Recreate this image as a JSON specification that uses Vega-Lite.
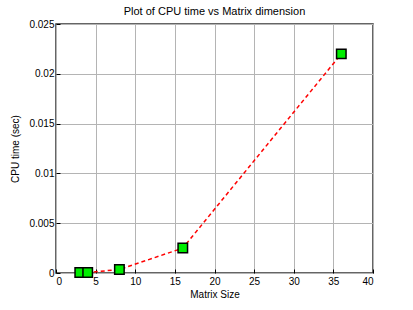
{
  "$schema": "https://vega.github.io/schema/vega-lite/v6.json",
  "width": 317,
  "height": 249,
  "autosize": {"type": "none"},
  "padding": {"left": 56, "top": 24, "right": 40, "bottom": 37},
  "background": "white",
  "title": {"text": "Plot of CPU time vs Matrix dimension", "font": "Liberation Sans", "fontSize": 11, "fontWeight": "normal", "color": "#000000", "offset": 2},
  "data": {"values": [
    {"size": 3, "time": 0.00005},
    {"size": 4, "time": 0.00005},
    {"size": 8, "time": 0.00035},
    {"size": 16, "time": 0.0025},
    {"size": 36, "time": 0.022}
  ]},
  "encoding": {
    "x": {"field": "size", "type": "quantitative", "scale": {"domain": [0, 40], "nice": false}, "axis": {"title": "Matrix Size", "grid": true, "values": [0,5,10,15,20,25,30,35,40], "tickSize": -4, "labelPadding": 7, "titlePadding": 3}},
    "y": {"field": "time", "type": "quantitative", "scale": {"domain": [0, 0.025], "nice": false}, "axis": {"title": "CPU time (sec)", "grid": true, "values": [0,0.005,0.01,0.015,0.02,0.025], "format": "~g", "tickSize": -4, "labelPadding": 6, "titlePadding": 8}}
  },
  "layer": [
    {"mark": {"type": "line", "color": "#ff0000", "strokeDash": [4, 3], "strokeWidth": 1.5}},
    {"mark": {"type": "square", "size": 90, "fill": "#00ee00", "stroke": "#000000", "strokeWidth": 1.5, "opacity": 1}}
  ],
  "config": {
    "view": {"stroke": "#333333", "strokeWidth": 1.5},
    "axis": {"labelFont": "Liberation Sans", "titleFont": "Liberation Sans", "labelFontSize": 10, "titleFontSize": 10, "titleFontWeight": "normal", "labelColor": "#000000", "titleColor": "#000000", "gridColor": "#b4b4b4", "gridOpacity": 1, "gridWidth": 1, "domain": false, "tickColor": "#000000"}
  }
}
